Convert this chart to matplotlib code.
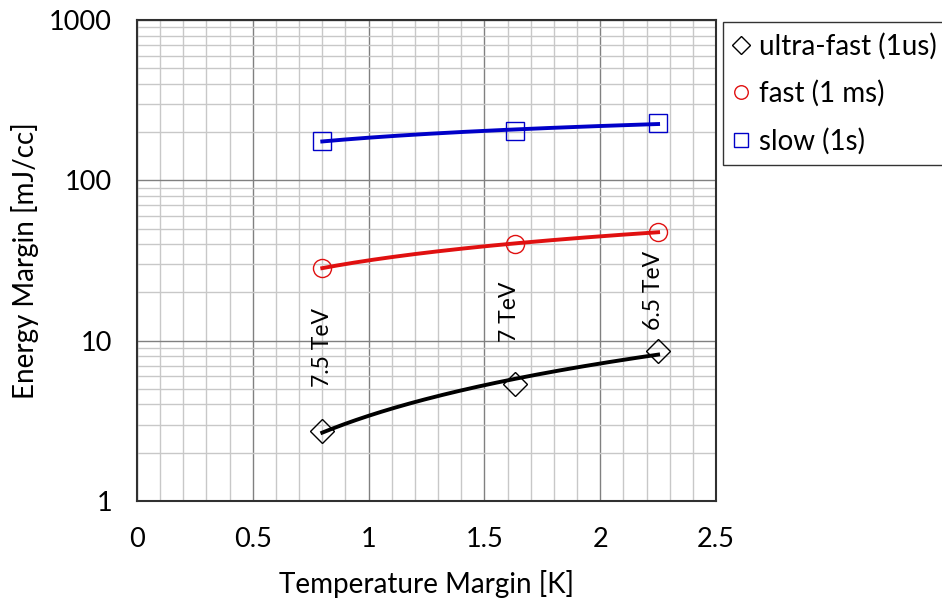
import matplotlib.pyplot as plt
import numpy as np
from matplotlib.ticker import MultipleLocator, LogLocator, NullFormatter

plt.rcParams['font.family'] = ['Lato', 'DejaVu Sans']

# temperature margin [K] at 7.5, 7 and 6.5 TeV
temp = np.array([0.80, 1.63, 2.25])
energy_labels = ['7.5 TeV', '7 TeV', '6.5 TeV']
label_x = [0.80, 1.61, 2.23]
label_y = [9.1, 15.1, 20.7]

ultra_fast = np.array([2.73, 5.37, 8.6])
fast = np.array([28.4, 40.1, 47.7])
slow = np.array([176, 203, 228])


# power-law trend line, like the spreadsheet one
def power_fit(x, y):
    b, a = np.polyfit(np.log(x), np.log(y), 1)
    xx = np.linspace(x.min(), x.max(), 200)
    return xx, np.exp(a) * xx**b


fig = plt.figure(figsize=(9.42, 6.01), dpi=100)
ax = fig.add_axes([137/942, 1-501/601, (716-137)/942, (501-20)/601])

series = [
    (ultra_fast, 'black', 'D', 12.5, 'ultra-fast (1us)'),
    (fast, '#e01010', 'o', 13, 'fast (1 ms)'),
    (slow, '#0000c8', 's', 13, 'slow (1s)'),
]

handles = []
for y, col, mk, ms, lab in series:
    xx, yy = power_fit(temp, y)
    ax.plot(xx, yy, color=col, lw=2.8, zorder=3)
    h, = ax.plot(temp, y, linestyle='', marker=mk, ms=ms, mfc='none',
                 mec=col, mew=1.0, label=lab, zorder=4)
    handles.append(h)

for x, lab, ly in zip(label_x, energy_labels, label_y):
    ax.text(x, ly, lab, rotation=90, ha='center', va='center', fontsize=16.5)

ax.set_yscale('log')
ax.set_xlim(0, 2.5)
ax.set_ylim(1, 1000)
ax.xaxis.set_major_locator(MultipleLocator(0.5))
ax.xaxis.set_minor_locator(MultipleLocator(0.1))
ax.yaxis.set_major_locator(LogLocator(base=10))
ax.yaxis.set_minor_locator(LogLocator(base=10, subs=np.arange(2, 10)))
ax.yaxis.set_minor_formatter(NullFormatter())
ax.set_yticks([1, 10, 100, 1000])
ax.set_yticklabels(['1', '10', '100', '1000'])
ax.set_xticks([0, 0.5, 1, 1.5, 2, 2.5])
ax.set_xticklabels(['0', '0.5', '1', '1.5', '2', '2.5'])

ax.grid(which='minor', color='#c8c8c8', lw=1.0)
ax.grid(which='major', color='#808080', lw=1.0)
ax.set_axisbelow(True)
ax.tick_params(which='both', length=0, labelsize=19.5)
ax.tick_params(axis='x', pad=19)
ax.tick_params(axis='y', pad=18)
for s in ax.spines.values():
    s.set_color('#303030')
    s.set_linewidth(1.5)

ax.set_xlabel('Temperature Margin [K]', fontsize=20)
ax.set_ylabel('Energy Margin [mJ/cc]', fontsize=20)
ax.xaxis.set_label_coords(0.5, -(570-501)/481, transform=ax.transAxes)
ax.yaxis.set_label_coords(-(137-39)/579, 0.5, transform=ax.transAxes)

leg = fig.legend(handles=handles, loc='upper left', bbox_to_anchor=(723/942, 1-22/601),
                 fontsize=20, frameon=True, fancybox=False, edgecolor='black',
                 handlelength=0.55, handletextpad=0.35, borderpad=0.38, labelspacing=0.75,
                 borderaxespad=0, markerscale=0.75)
leg.get_frame().set_linewidth(1.0)

fig.savefig('out.png', dpi=100)
